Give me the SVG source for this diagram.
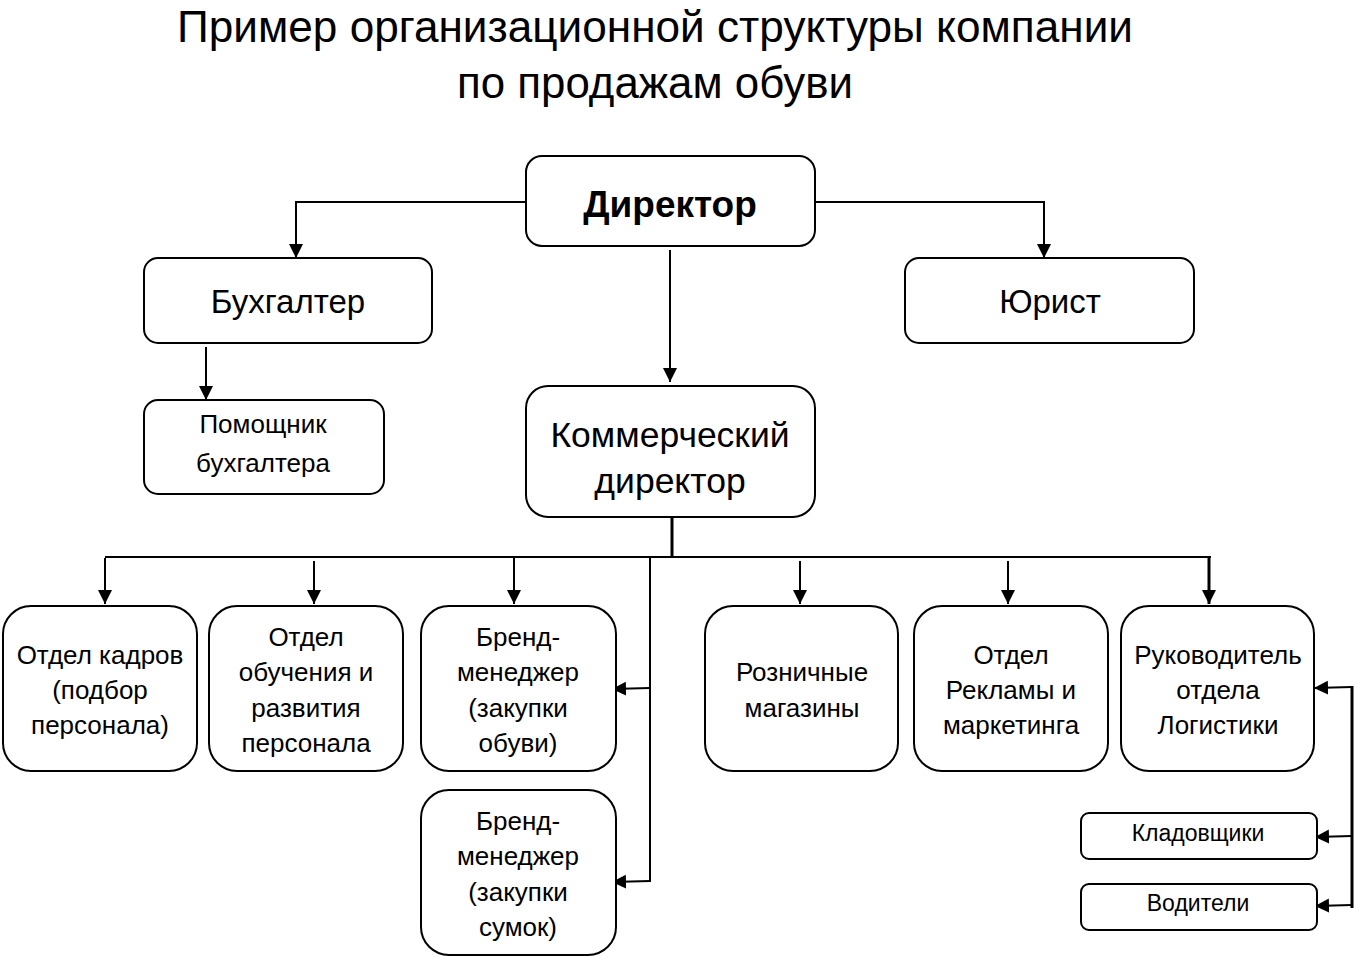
<svg xmlns="http://www.w3.org/2000/svg" width="1354" height="957" viewBox="0 0 1354 957">
<defs>
<marker id="ah" markerUnits="userSpaceOnUse" markerWidth="14" markerHeight="16" refX="14" refY="7" orient="auto" viewBox="0 0 14 14">
<path d="M0,0 L14,7 L0,14 Z" fill="#000"/>
</marker>
</defs>
<style>
.box{fill:#fff;stroke:#000;stroke-width:2}
.ln{fill:none;stroke:#000;stroke-width:2}
.t{font-family:"Liberation Sans","DejaVu Sans",sans-serif;fill:#000;text-anchor:middle}
.title{font-family:"Liberation Sans","DejaVu Sans",sans-serif;font-size:44px;fill:#000;text-anchor:middle}
.r{font-size:26px}
</style>
<rect width="1354" height="957" fill="#fff"/>
<g id="title">
<text class="title" x="655" y="42" textLength="956" lengthAdjust="spacingAndGlyphs">Пример организационной структуры компании</text>
<text class="title" x="655" y="98" textLength="396" lengthAdjust="spacingAndGlyphs">по продажам обуви</text>
</g>
<g id="connectors">
<polyline class="ln" points="526,202 296,202 296,258" marker-end="url(#ah)"/>
<polyline class="ln" points="815,202 1044,202 1044,258" marker-end="url(#ah)"/>
<line class="ln" x1="670" y1="250" x2="670" y2="382" marker-end="url(#ah)"/>
<line class="ln" x1="206" y1="347" x2="206" y2="400" marker-end="url(#ah)"/>
<line class="ln" x1="672" y1="517" x2="672" y2="557" style="stroke-width:3"/>
<line class="ln" x1="105" y1="557" x2="1211" y2="557"/>
<line class="ln" x1="105" y1="558" x2="105" y2="604" marker-end="url(#ah)"/>
<line class="ln" x1="314" y1="561" x2="314" y2="604" marker-end="url(#ah)"/>
<line class="ln" x1="514" y1="558" x2="514" y2="604" marker-end="url(#ah)"/>
<line class="ln" x1="800" y1="561" x2="800" y2="604" marker-end="url(#ah)"/>
<line class="ln" x1="1008" y1="561" x2="1008" y2="604" marker-end="url(#ah)"/>
<line class="ln" x1="1209" y1="557" x2="1209" y2="604" marker-end="url(#ah)" style="stroke-width:3"/>
<line class="ln" x1="650" y1="557" x2="650" y2="882"/>
<line class="ln" x1="650" y1="688" x2="612" y2="689" marker-end="url(#ah)"/>
<line class="ln" x1="650" y1="881" x2="612" y2="882" marker-end="url(#ah)"/>
<line class="ln" x1="1352" y1="686" x2="1352" y2="908" style="stroke-width:3"/>
<line class="ln" x1="1352" y1="687" x2="1314" y2="688" marker-end="url(#ah)"/>
<line class="ln" x1="1352" y1="836" x2="1315" y2="837" marker-end="url(#ah)"/>
<line class="ln" x1="1352" y1="905" x2="1315" y2="906" marker-end="url(#ah)"/>
</g>
<g id="director">
<rect class="box" x="526" y="156" width="289" height="90" rx="16"/>
<text class="t" x="670" y="217" style="font-size:37px;font-weight:bold">Директор</text>
</g>
<g id="buhgalter">
<rect class="box" x="144" y="258" width="288" height="85" rx="14"/>
<text class="t" x="288" y="313" style="font-size:33px">Бухгалтер</text>
</g>
<g id="yurist">
<rect class="box" x="905" y="258" width="289" height="85" rx="14"/>
<text class="t" x="1050" y="313" style="font-size:33px">Юрист</text>
</g>
<g id="pomoshnik">
<rect class="box" x="144" y="400" width="240" height="94" rx="14"/>
<text class="t" x="263" y="433" style="font-size:26px">Помощник</text>
<text class="t" x="263" y="472" style="font-size:26px">бухгалтера</text>
</g>
<g id="kommerch">
<rect class="box" x="526" y="386" width="289" height="131" rx="22"/>
<text class="t" x="670" y="447" style="font-size:35.5px">Коммерческий</text>
<text class="t" x="670" y="493" style="font-size:35.5px">директор</text>
</g>
<g id="kadry">
<rect class="box" x="3" y="606" width="194" height="165" rx="28"/>
<text class="t r" x="100" y="664">Отдел кадров</text>
<text class="t r" x="100" y="699">(подбор</text>
<text class="t r" x="100" y="734">персонала)</text>
</g>
<g id="obuchenie">
<rect class="box" x="209" y="606" width="194" height="165" rx="28"/>
<text class="t r" x="306" y="646">Отдел</text>
<text class="t r" x="306" y="681">обучения и</text>
<text class="t r" x="306" y="717">развития</text>
<text class="t r" x="306" y="752">персонала</text>
</g>
<g id="brand1">
<rect class="box" x="421" y="606" width="195" height="165" rx="28"/>
<text class="t r" x="518" y="646">Бренд-</text>
<text class="t r" x="518" y="681">менеджер</text>
<text class="t r" x="518" y="717">(закупки</text>
<text class="t r" x="518" y="752">обуви)</text>
</g>
<g id="brand2">
<rect class="box" x="421" y="790" width="195" height="165" rx="28"/>
<text class="t r" x="518" y="830">Бренд-</text>
<text class="t r" x="518" y="865">менеджер</text>
<text class="t r" x="518" y="901">(закупки</text>
<text class="t r" x="518" y="936">сумок)</text>
</g>
<g id="roznica">
<rect class="box" x="705" y="606" width="193" height="165" rx="28"/>
<text class="t r" x="802" y="681">Розничные</text>
<text class="t r" x="802" y="717">магазины</text>
</g>
<g id="reklama">
<rect class="box" x="914" y="606" width="194" height="165" rx="28"/>
<text class="t r" x="1011" y="664">Отдел</text>
<text class="t r" x="1011" y="699">Рекламы и</text>
<text class="t r" x="1011" y="734">маркетинга</text>
</g>
<g id="logistika">
<rect class="box" x="1121" y="606" width="193" height="165" rx="28"/>
<text class="t r" x="1218" y="664">Руководитель</text>
<text class="t r" x="1218" y="699">отдела</text>
<text class="t r" x="1218" y="734">Логистики</text>
</g>
<g id="kladovshiki">
<rect class="box" x="1081" y="813" width="236" height="46" rx="8"/>
<text class="t" x="1198" y="841" style="font-size:23px">Кладовщики</text>
</g>
<g id="voditeli">
<rect class="box" x="1081" y="884" width="236" height="46" rx="8"/>
<text class="t" x="1198" y="911" style="font-size:23px">Водители</text>
</g>
</svg>
